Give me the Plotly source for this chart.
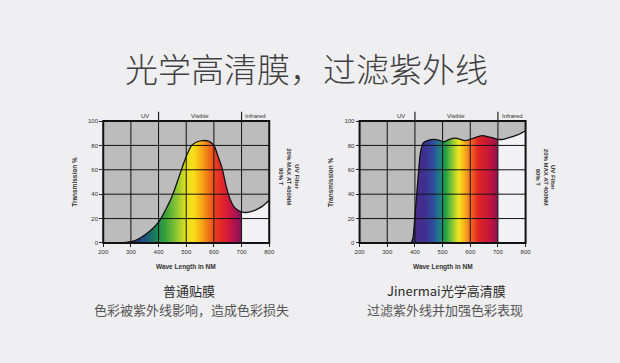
import plotly.graph_objects as go

# ---------------- data ----------------
wl_a = [200, 260, 300, 325, 350, 375, 400, 425, 450, 475, 500, 520, 540, 560, 580, 600,
        615, 630, 645, 660, 675, 700, 715, 730, 750, 775, 800]
tr_a = [0, 0, 1, 3, 6.5, 11, 17, 27, 39, 55, 71, 80, 83, 84, 83.5, 80,
        71, 61, 46, 35, 29, 25.5, 25, 25.5, 27, 30, 35]

wl_b = [200, 300, 385, 392, 400, 410, 420, 430, 445, 470, 490, 505, 525, 545, 565, 580,
        600, 625, 645, 665, 685, 700, 720, 750, 775, 800]
tr_b = [0, 0, 0, 3, 22, 50, 74, 82, 84, 85, 84, 83, 85, 86, 85, 84,
        85, 87, 88, 87, 86, 85, 85, 87, 89, 92]

x_ticks = [200, 300, 400, 500, 600, 700, 800]
y_ticks = [0, 20, 40, 60, 80, 100]
band_names = ["UV", "Visible", "Infrared"]
band_pos = [350, 550, 752]
band_edges = [400, 700]
visible_end = 700

title = "光学高清膜，过滤紫外线"
captions_a = ["普通贴膜", "色彩被紫外线影响，造成色彩损失"]
captions_b = ["Jinermai光学高清膜", "过滤紫外线并加强色彩表现"]
side_a = ["UV Filter", "20% MAX AT 400NM", "90% T"]
side_b = ["UV Filter", "20% MAX AT 400NM", "90% T"]

# spectrum colour stops (nm, colour)
spec_a = [(300, "#1e2f72"), (345, "#1e4f84"), (385, "#1a7f5a"), (420, "#36a23a"),
          (460, "#8cc633"), (495, "#e6e11e"), (520, "#f9e01a"), (545, "#f7b015"),
          (575, "#f07018"), (605, "#e73422"), (640, "#d81a36"), (670, "#a81252"),
          (700, "#6e1260")]
spec_b = [(390, "#4a2a86"), (430, "#3f2f90"), (460, "#2e4b9e"), (485, "#1f7f86"),
          (505, "#22a044"), (530, "#8ec834"), (552, "#f1e61e"), (572, "#f8b21c"),
          (595, "#f26a1e"), (620, "#e32624"), (665, "#c0143f"), (700, "#7e1052")]

# ---------------- layout geometry ----------------
W, H = 620, 363
bg = "#efeef0"
plot_bg = "#bdbcbd"
dom_a = [100 / W, 269 / W]
dom_b = [361 / W, 530 / W]
dom_y = [1 - 244 / H, 1 - 120 / H]


def colorscale(stops):
    lo, hi = stops[0][0], stops[-1][0]
    return [[(nm - lo) / (hi - lo), c] for nm, c in stops]


fig = go.Figure()

panels = [
    (wl_a, tr_a, spec_a, "x", "y"),
    (wl_b, tr_b, spec_b, "x2", "y2"),
]
for wl, tr, spec, xa, ya in panels:
    vis_x = [w for w in wl if w <= visible_end]
    vis_y = [t for w, t in zip(wl, tr) if w <= visible_end]
    ir_x = [w for w in wl if w >= visible_end]
    ir_y = [t for w, t in zip(wl, tr) if w >= visible_end]
    fig.add_trace(go.Scatter(
        x=vis_x, y=vis_y, xaxis=xa, yaxis=ya, mode="lines",
        line=dict(width=0, shape="spline", smoothing=0.7),
        fill="tozeroy",
        fillgradient=dict(type="horizontal", colorscale=colorscale(spec),
                          start=spec[0][0], stop=spec[-1][0]),
        hoverinfo="skip", showlegend=False))
    fig.add_trace(go.Scatter(
        x=ir_x, y=ir_y, xaxis=xa, yaxis=ya, mode="lines",
        line=dict(width=0, shape="spline", smoothing=0.7),
        fill="tozeroy", fillcolor="#f3f2f4",
        hoverinfo="skip", showlegend=False))
    fig.add_trace(go.Scatter(
        x=wl, y=tr, xaxis=xa, yaxis=ya, mode="lines",
        line=dict(width=1.3, color="#111111", shape="spline", smoothing=0.7),
        hoverinfo="skip", showlegend=False))

axis_font = dict(family="Liberation Sans", size=6, color="#333333")
ax_common = dict(range=[200, 800], tickvals=x_ticks, ticks="outside", ticklen=3,
                 tickcolor="#222", tickwidth=1, showgrid=False, zeroline=False,
                 showline=False, tickfont=axis_font, fixedrange=True)
ay_common = dict(range=[0, 100], tickvals=y_ticks, ticks="outside", ticklen=3,
                 tickcolor="#222", tickwidth=1, showgrid=False, zeroline=False,
                 showline=False, tickfont=axis_font, fixedrange=True)

fig.update_layout(
    width=W, height=H,
    margin=dict(l=0, r=0, t=0, b=0),
    paper_bgcolor=bg, plot_bgcolor=plot_bg,
    xaxis=dict(domain=dom_a, anchor="y", **ax_common),
    yaxis=dict(domain=dom_y, anchor="x", **ay_common),
    xaxis2=dict(domain=dom_b, anchor="y2", **ax_common),
    yaxis2=dict(domain=dom_y, anchor="x2", **ay_common),
    showlegend=False,
)

shapes = []
annotations = []


def note(text, x, y, size, color, family="Liberation Sans", xref="paper", yref="paper",
         angle=0, weight=None):
    f = dict(family=family, size=size, color=color)
    if weight is not None:
        f["weight"] = weight
    annotations.append(dict(text=text, xref=xref, yref=yref, x=x, y=y, showarrow=False,
                            xanchor="center", yanchor="middle", textangle=angle,
                            align="center", font=f))


for xa, ya, dom, side in [("x", "y", dom_a, side_a), ("x2", "y2", dom_b, side_b)]:
    for xv in x_ticks[1:-1]:
        shapes.append(dict(type="line", xref=xa, yref=ya + " domain", x0=xv, x1=xv,
                           y0=0, y1=1, line=dict(color="#111", width=1), layer="above"))
    for yv in y_ticks[1:-1]:
        shapes.append(dict(type="line", xref=xa + " domain", yref=ya, x0=0, x1=1,
                           y0=yv, y1=yv, line=dict(color="#111", width=1), layer="above"))
    shapes.append(dict(type="rect", xref=xa + " domain", yref=ya + " domain",
                       x0=0, x1=1, y0=0, y1=1, line=dict(color="#111", width=2),
                       layer="above"))
    for xv in band_edges:
        shapes.append(dict(type="line", xref=xa, yref=ya + " domain", x0=xv, x1=xv,
                           y0=1, y1=1.075, line=dict(color="#222", width=1.2),
                           layer="above"))
    for name, pos in zip(band_names, band_pos):
        note(name, pos, 1.04, 6, "#333", xref=xa, yref=ya + " domain")
    cx = (dom[0] + dom[1]) / 2
    note("<b>Wave Length in NM</b>", cx, 1 - 268 / H, 6.5, "#333")
    note("<b>Transmission %</b>", dom[0] - 29 / W, 1 - 182 / H, 6.5, "#333", angle=-90)
    note("<b>" + "<br>".join(side) + "</b>", dom[1] + 20 / W, 1 - 177 / H, 6, "#333",
         angle=90)

cjk = "Noto Sans CJK SC"
note(title, 307 / W, 1 - 66 / H, 33, "#404040", family=cjk, weight=300)
note(captions_a[0], 187 / W, 1 - 292 / H, 13, "#2a2a2a", family=cjk)
note(captions_a[1], 190 / W, 1 - 312 / H, 13, "#555555", family=cjk)
note(captions_b[0], 449 / W, 1 - 292 / H, 13, "#2a2a2a", family=cjk)
note(captions_b[1], 448 / W, 1 - 312 / H, 13, "#555555", family=cjk)

fig.update_layout(shapes=shapes, annotations=annotations)
fig.write_html("out.html", config={"displayModeBar": False},
               post_script="document.body.style.margin='0';")
